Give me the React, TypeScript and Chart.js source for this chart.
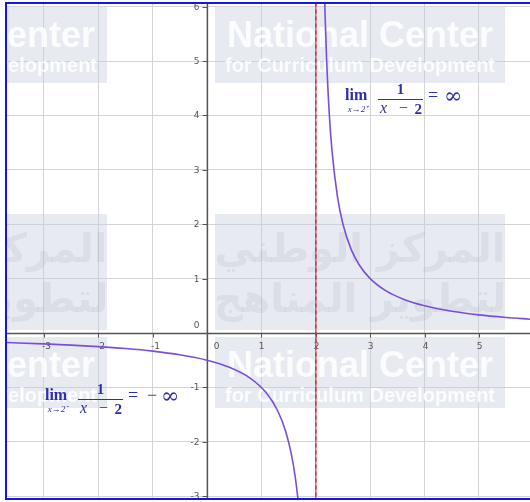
import React, { useEffect, useRef } from "react";
import { Chart, registerables } from "chart.js";

Chart.register(...registerables);

// ---- data ----
const X_TICKS = [-3, -2, -1, 0, 1, 2, 3, 4, 5];
const Y_TICKS = [-3, -2, -1, 0, 1, 2, 3, 4, 5, 6];
const X_RANGE = [-3.676, 5.938];
const Y_RANGE = [-3.033, 6.048];

const LEFT_X = [-3.7, -3, -2.5, -2, -1.5, -1, -0.5, 0, 0.4, 0.8, 1.1, 1.3, 1.45, 1.55, 1.62, 1.67, 1.7];
const LEFT_Y = [-0.175, -0.2, -0.222, -0.25, -0.286, -0.333, -0.4, -0.5, -0.625, -0.833, -1.111, -1.429, -1.818, -2.222, -2.632, -3.03, -3.333];
const RIGHT_X = [2.15, 2.17, 2.2, 2.25, 2.3, 2.4, 2.5, 2.65, 2.8, 3, 3.3, 3.6, 4, 4.5, 5, 5.5, 5.95];
const RIGHT_Y = [6.667, 5.882, 5, 4, 3.333, 2.5, 2, 1.538, 1.25, 1, 0.769, 0.625, 0.5, 0.4, 0.333, 0.286, 0.253];
const ASYMPTOTE_X = 2;

const LIMIT_RIGHT = { x: 2.537, y: 4.375, sub: "x→2⁺", negative: false };
const LIMIT_LEFT = { x: -2.978, y: -1.14, sub: "x→2⁻", negative: true };

const WM_TITLE = "National Center";
const WM_SUB = "for Curriculum Development";
const WM_AR1 = "المركز الوطني";
const WM_AR2 = "لتطوير المناهج";

const MATH = "#2e2ea8";
const CURVE = "#7a4fd8";

function drawLimit(ctx: CanvasRenderingContext2D, L: number, C: number, sub: string, negative: boolean) {
  ctx.save();
  ctx.fillStyle = MATH;
  ctx.strokeStyle = MATH;
  ctx.textBaseline = "alphabetic";
  ctx.textAlign = "left";
  ctx.font = "bold 16px 'Liberation Serif'";
  ctx.fillText("lim", L, C + 5);
  ctx.font = "italic 9px 'Liberation Serif'";
  ctx.textAlign = "center";
  ctx.fillText(sub, L + 13, C + 17);
  const b0 = L + 33, b1 = L + 78, by = Math.round(C + 4);
  ctx.lineWidth = 1;
  ctx.beginPath();
  ctx.moveTo(b0, by + 0.5);
  ctx.lineTo(b1, by + 0.5);
  ctx.stroke();
  ctx.font = "bold 15px 'Liberation Serif'";
  ctx.fillText("1", (b0 + b1) / 2, by - 5);
  ctx.font = "italic 16px 'Liberation Serif'";
  ctx.textAlign = "left";
  ctx.fillText("x", b0 + 2, by + 14);
  ctx.font = "16px 'Liberation Serif'";
  ctx.textAlign = "center";
  ctx.textBaseline = "middle";
  ctx.fillText("−", (b0 + b1) / 2 + 3, by + 10);
  ctx.textBaseline = "alphabetic";
  ctx.font = "bold 15px 'Liberation Serif'";
  ctx.textAlign = "right";
  ctx.fillText("2", b1 - 1, by + 15);
  ctx.textAlign = "left";
  ctx.textBaseline = "middle";
  ctx.font = "18px 'Liberation Serif'";
  ctx.fillText("=", L + 83, C + 1);
  let x = L + 99;
  if (negative) {
    ctx.fillText("−", x + 3, C + 1);
    x += 17;
  }
  ctx.font = "22px 'DejaVu Serif'";
  ctx.fillText("∞", x, C + 2);
  ctx.restore();
}

function drawTile(ctx: CanvasRenderingContext2D, left: number, top: number, w: number, h: number, kind: string) {
  ctx.fillStyle = "rgba(200,206,222,0.42)";
  ctx.fillRect(left, top, w, h);
  const cx = left + w / 2;
  ctx.textAlign = "center";
  ctx.textBaseline = "alphabetic";
  if (kind === "en") {
    ctx.fillStyle = "rgba(255,255,255,0.85)";
    ctx.font = "bold 36px 'Liberation Sans'";
    ctx.fillText(WM_TITLE, cx, top + 40);
    ctx.font = "bold 20px 'Liberation Sans'";
    ctx.fillText(WM_SUB, cx, top + 65);
  } else {
    ctx.fillStyle = "rgba(150,156,176,0.16)";
    ctx.font = "bold 40px 'DejaVu Sans'";
    ctx.fillText(WM_AR1, cx, top + 48);
    ctx.fillText(WM_AR2, cx, top + 98);
  }
}

const graphPlugin = {
  id: "graphDecor",
  beforeDatasetsDraw(chart: any) {
    const { ctx, chartArea: a, scales } = chart;
    const xs = scales.x, ys = scales.y;
    ctx.save();
    ctx.beginPath();
    ctx.rect(a.left, a.top, a.right - a.left, a.bottom - a.top);
    ctx.clip();
    // watermark tiles
    const rows = [
      { top: 7, h: 76, kind: "en" },
      { top: 214, h: 116, kind: "ar" },
      { top: 337, h: 71, kind: "en" },
    ];
    for (const r of rows) {
      for (const l of [-183, 215]) drawTile(ctx, l, r.top, 290, r.h, r.kind);
    }
    // axes
    const ax = Math.round(xs.getPixelForValue(0)) + 0.5;
    const ay = Math.round(ys.getPixelForValue(0)) + 0.5;
    ctx.strokeStyle = "#555";
    ctx.lineWidth = 1.3;
    ctx.beginPath();
    ctx.moveTo(a.left, ay);
    ctx.lineTo(a.right, ay);
    ctx.moveTo(ax, a.top);
    ctx.lineTo(ax, a.bottom);
    ctx.stroke();
    // tick marks and labels
    ctx.lineWidth = 1;
    ctx.fillStyle = "#555";
    ctx.font = "9px 'DejaVu Sans'";
    ctx.textBaseline = "middle";
    for (const v of X_TICKS) {
      const px = Math.round(xs.getPixelForValue(v)) + 0.5;
      ctx.beginPath();
      ctx.moveTo(px, ay);
      ctx.lineTo(px, ay + 4);
      ctx.stroke();
      ctx.textAlign = "center";
      ctx.fillText(String(v), v === 0 ? px + 9 : px + (v < 0 ? 2 : 0), ay + 13);
    }
    for (const v of Y_TICKS) {
      const py = Math.round(ys.getPixelForValue(v)) + 0.5;
      ctx.beginPath();
      ctx.moveTo(ax - 5, py);
      ctx.lineTo(ax, py);
      ctx.stroke();
      ctx.textAlign = "right";
      ctx.fillText(String(v), ax - 8, v === 0 ? py - 8 : py);
    }
    ctx.restore();
  },
  afterDatasetsDraw(chart: any) {
    const { ctx, scales, chartArea: a } = chart;
    const xs = scales.x, ys = scales.y;
    for (const lim of [LIMIT_RIGHT, LIMIT_LEFT]) {
      drawLimit(ctx, xs.getPixelForValue(lim.x), ys.getPixelForValue(lim.y), lim.sub, lim.negative);
    }
    ctx.save();
    ctx.strokeStyle = "#1414f0";
    ctx.lineWidth = 2;
    ctx.strokeRect(a.left - 1, a.top - 1, a.right - a.left + 4, a.bottom - a.top + 2);
    ctx.restore();
  },
};

export default function App() {
  const ref = useRef<HTMLCanvasElement | null>(null);
  useEffect(() => {
    document.body.style.margin = "0";
    const canvas = ref.current;
    if (!canvas) return;
    const toPts = (xs: number[], ys: number[]) => xs.map((x, i) => ({ x, y: ys[i] }));
    const vLine = [
      { x: ASYMPTOTE_X, y: Y_RANGE[0] - 1 },
      { x: ASYMPTOTE_X, y: Y_RANGE[1] + 1 },
    ];
    const chart = new Chart(canvas, {
      type: "line",
      data: {
        datasets: [
          {
            data: toPts(LEFT_X, LEFT_Y),
            borderColor: CURVE,
            borderWidth: 1.6,
            pointRadius: 0,
            cubicInterpolationMode: "monotone",
            fill: false,
          },
          {
            data: toPts(RIGHT_X, RIGHT_Y),
            borderColor: CURVE,
            borderWidth: 1.6,
            pointRadius: 0,
            cubicInterpolationMode: "monotone",
            fill: false,
          },
          {
            data: vLine,
            borderColor: "rgba(232,70,70,0.85)",
            borderWidth: 1.4,
            pointRadius: 0,
            fill: false,
          },
          {
            data: vLine,
            borderColor: "#6a1018",
            borderWidth: 1.4,
            borderDash: [4, 3],
            pointRadius: 0,
            fill: false,
          },
        ],
      },
      options: {
        animation: false,
        responsive: true,
        maintainAspectRatio: false,
        layout: { padding: { left: 7, top: 4, right: 0, bottom: 4 } },
        plugins: { legend: { display: false }, tooltip: { enabled: false } },
        events: [],
        scales: {
          x: {
            type: "linear",
            min: X_RANGE[0],
            max: X_RANGE[1],
            ticks: { display: false, stepSize: 1, includeBounds: false },
            grid: { color: "#d4d4d4", lineWidth: 1, drawTicks: false },
            border: { display: false },
            afterFit: (s: any) => { s.height = 0; },
          },
          y: {
            type: "linear",
            min: Y_RANGE[0],
            max: Y_RANGE[1],
            ticks: { display: false, stepSize: 1, includeBounds: false },
            grid: { color: "#d4d4d4", lineWidth: 1, drawTicks: false },
            border: { display: false },
            afterFit: (s: any) => { s.width = 0; },
          },
        },
      },
      plugins: [graphPlugin],
    } as any);
    return () => chart.destroy();
  }, []);
  return (
    <div style={{ position: "relative", width: 530, height: 502 }}>
      <canvas ref={ref} />
    </div>
  );
}
